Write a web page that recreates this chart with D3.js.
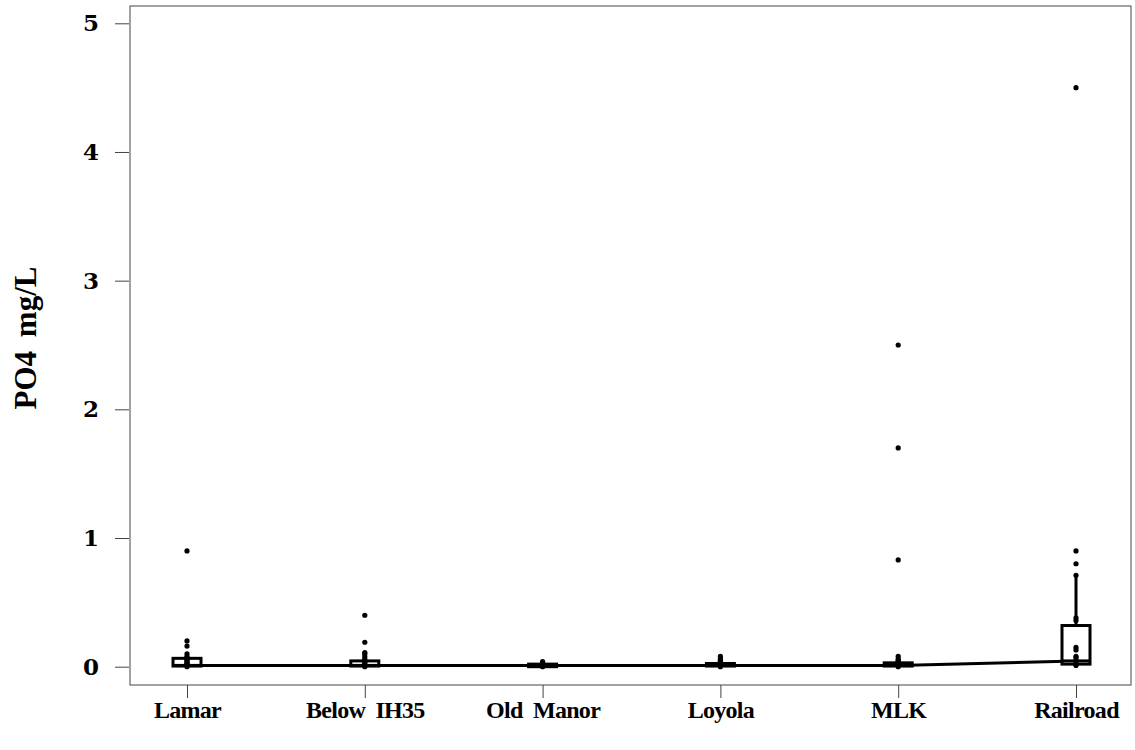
<!DOCTYPE html>
<html>
<head>
<meta charset="utf-8">
<script src="https://cdn.jsdelivr.net/npm/d3@7"></script>
<style>
  html, body { margin: 0; padding: 0; background: #fff; }
  svg { display: block; }
  text { font-family: "Liberation Serif", "DejaVu Serif", serif; font-weight: bold; fill: #000; }
</style>
</head>
<body>
<svg id="chart" width="1135" height="750"></svg>
<script>
// Sampling sites along the creek
const sites = ["Lamar", "Below IH35", "Old Manor", "Loyola", "MLK", "Railroad"];

// Box statistics per site (mg/L)
const q1 = [0.005, 0.005, 0.0, 0.005, 0.005, 0.02];
const medians = [0.01, 0.01, 0.01, 0.01, 0.01, 0.045];
const q3 = [0.065, 0.045, 0.02, 0.025, 0.03, 0.32];
const whiskerLo = [0.0, 0.0, 0.0, 0.0, 0.0, 0.0];
const whiskerHi = [0.1, 0.1, 0.04, 0.06, 0.07, 0.71];

// Individual PO4 samples per site (mg/L)
const samplesLamar = [0.9, 0.2, 0.16, 0.1, 0.08, 0.07, 0.06, 0.05, 0.04, 0.03, 0.02, 0.02, 0.01, 0.01, 0.0];
const samplesIH35 = [0.4, 0.19, 0.11, 0.1, 0.08, 0.06, 0.05, 0.04, 0.03, 0.02, 0.01, 0.01, 0.0];
const samplesOldManor = [0.04, 0.03, 0.02, 0.02, 0.01, 0.01, 0.0];
const samplesLoyola = [0.08, 0.06, 0.05, 0.04, 0.03, 0.02, 0.01, 0.0];
const samplesMLK = [2.5, 1.7, 0.83, 0.08, 0.06, 0.05, 0.04, 0.03, 0.02, 0.01, 0.01, 0.0];
const samplesRailroad = [4.5, 0.9, 0.8, 0.71, 0.38, 0.36, 0.15, 0.13, 0.08, 0.07, 0.05, 0.03, 0.02, 0.01];
const samples = [samplesLamar, samplesIH35, samplesOldManor, samplesLoyola, samplesMLK, samplesRailroad];

const yTicks = [0, 1, 2, 3, 4, 5];
const yLabel = "PO4 mg/L";

const svg = d3.select("#chart");

// Plot region frame
const frame = { left: 130, right: 1131, top: 6, bottom: 685 };

const x = d3.scaleLinear().domain([1, 6]).range([187, 1076]);
const y = d3.scaleLinear().domain([0, 5]).range([666.7, 23.3]);
const boxHalf = 14;

// Frame
svg.append("rect")
  .attr("x", frame.left).attr("y", frame.top)
  .attr("width", frame.right - frame.left)
  .attr("height", frame.bottom - frame.top)
  .attr("fill", "none").attr("stroke", "#444").attr("stroke-width", 1);

// Y axis
const yAxis = d3.axisLeft(y).tickValues(yTicks).tickSize(14).tickPadding(16).tickFormat(d3.format("d"));
const gy = svg.append("g").attr("transform", `translate(${frame.left - 1},0)`).call(yAxis);
gy.select(".domain").remove();
gy.selectAll(".tick line").attr("stroke", "#444");
gy.selectAll(".tick text")
  .style("font-size", "23px")
  .style("font-family", "DejaVu Serif, serif")
  .attr("font-weight", "bold").attr("fill", "#000");

// X axis
const xAxis = d3.axisBottom(x).tickValues(d3.range(1, 7)).tickSize(13).tickPadding(3).tickFormat((d) => sites[d - 1]);
const gx = svg.append("g").attr("transform", `translate(0,${frame.bottom})`).call(xAxis);
gx.select(".domain").remove();
gx.selectAll(".tick line").attr("stroke", "#444");
gx.selectAll(".tick text")
  .style("font-size", "24px")
  .style("font-family", "Liberation Serif, serif")
  .style("letter-spacing", "-0.7px")
  .style("word-spacing", "5px")
  .attr("font-weight", "bold").attr("fill", "#000");

// Y axis title
svg.append("text")
  .attr("transform", `translate(36,338) rotate(-90)`)
  .attr("text-anchor", "middle")
  .style("font-size", "31px")
  .style("word-spacing", "6px")
  .text(yLabel);

// Line joining the medians
const medLine = d3.line().x((d, i) => x(i + 1)).y((d) => y(d));
svg.append("path")
  .datum(medians)
  .attr("d", medLine)
  .attr("fill", "none").attr("stroke", "#000").attr("stroke-width", 3);

// Boxes
const boxes = svg.append("g").selectAll("g").data(sites).join("g");
boxes.append("line")
  .attr("x1", (d, i) => x(i + 1)).attr("x2", (d, i) => x(i + 1))
  .attr("y1", (d, i) => y(q3[i])).attr("y2", (d, i) => y(whiskerHi[i]))
  .attr("stroke", "#000").attr("stroke-width", 3);
boxes.append("line")
  .attr("x1", (d, i) => x(i + 1)).attr("x2", (d, i) => x(i + 1))
  .attr("y1", (d, i) => y(q1[i])).attr("y2", (d, i) => y(whiskerLo[i]))
  .attr("stroke", "#000").attr("stroke-width", 3);
boxes.append("rect")
  .attr("x", (d, i) => x(i + 1) - boxHalf)
  .attr("width", boxHalf * 2)
  .attr("y", (d, i) => y(q3[i]))
  .attr("height", (d, i) => Math.max(y(q1[i]) - y(q3[i]), 1))
  .attr("fill", "#fff").attr("stroke", "#000").attr("stroke-width", 3);
boxes.append("line")
  .attr("x1", (d, i) => x(i + 1) - boxHalf).attr("x2", (d, i) => x(i + 1) + boxHalf)
  .attr("y1", (d, i) => y(medians[i])).attr("y2", (d, i) => y(medians[i]))
  .attr("stroke", "#000").attr("stroke-width", 3);

// Sample points
samples.forEach((vals, i) => {
  svg.append("g").selectAll("circle").data(vals).join("circle")
    .attr("cx", x(i + 1))
    .attr("cy", (d) => y(d))
    .attr("r", 2.6)
    .attr("fill", "#000");
});
</script>
</body>
</html>
